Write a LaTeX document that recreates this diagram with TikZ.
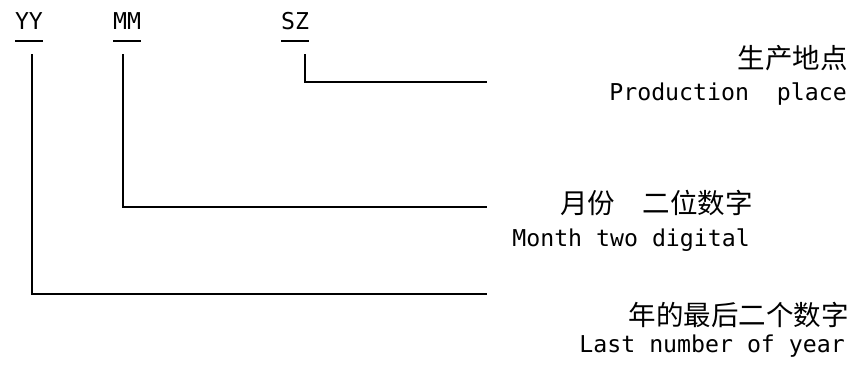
\documentclass[tikz,border=0pt]{standalone}
\usepackage{fontspec}
\setmonofont{DejaVu Sans Mono}
\newfontfamily\cjk{Noto Sans CJK SC}
\begin{document}
\begin{tikzpicture}[x=1pt,y=-1pt,
  code/.style={inner sep=0pt,anchor=base,font=\fontsize{23.2}{26}\selectfont\ttfamily},
  zh/.style={inner sep=0pt,anchor=base east,font=\fontsize{27.5}{30}\selectfont\cjk},
  en/.style={inner sep=0pt,anchor=base east,font=\fontsize{23.2}{26}\selectfont\ttfamily},
  wire/.style={line width=1.5pt,black}]
\useasboundingbox (0,0) rectangle (854,365);
% code letters
\node[code] (yy) at (29,29) {YY};
\node[code] (mm) at (127,29) {MM};
\node[code] (sz) at (295,29) {SZ};
\draw[wire] (15,41) -- (43,41);
\draw[wire] (113,41) -- (141,41);
\draw[wire] (281,41) -- (309,41);
% connector ends
\coordinate (yytop) at (32,54);
\coordinate (mmtop) at (123,54);
\coordinate (sztop) at (305,54);
\coordinate (szend) at (487,82);
\coordinate (mmend) at (487,207);
\coordinate (yyend) at (487,294);
\draw[wire] (sztop) |- (szend);
\draw[wire] (mmtop) |- (mmend);
\draw[wire] (yytop) |- (yyend);
% explanations
\node[zh] (pzh) at (848,68) {生产地点};
\node[en] (pen) at (847,100) {Production~~place};
\node[zh] (mzh) at (753,213) {月份\hspace{1em}二位数字};
\node[en] (men) at (750,246) {Month two digital};
\node[zh] (yzh) at (849,325) {年的最后二个数字};
\node[en] (yen) at (845,352) {Last number of year};
\end{tikzpicture}
\end{document}
